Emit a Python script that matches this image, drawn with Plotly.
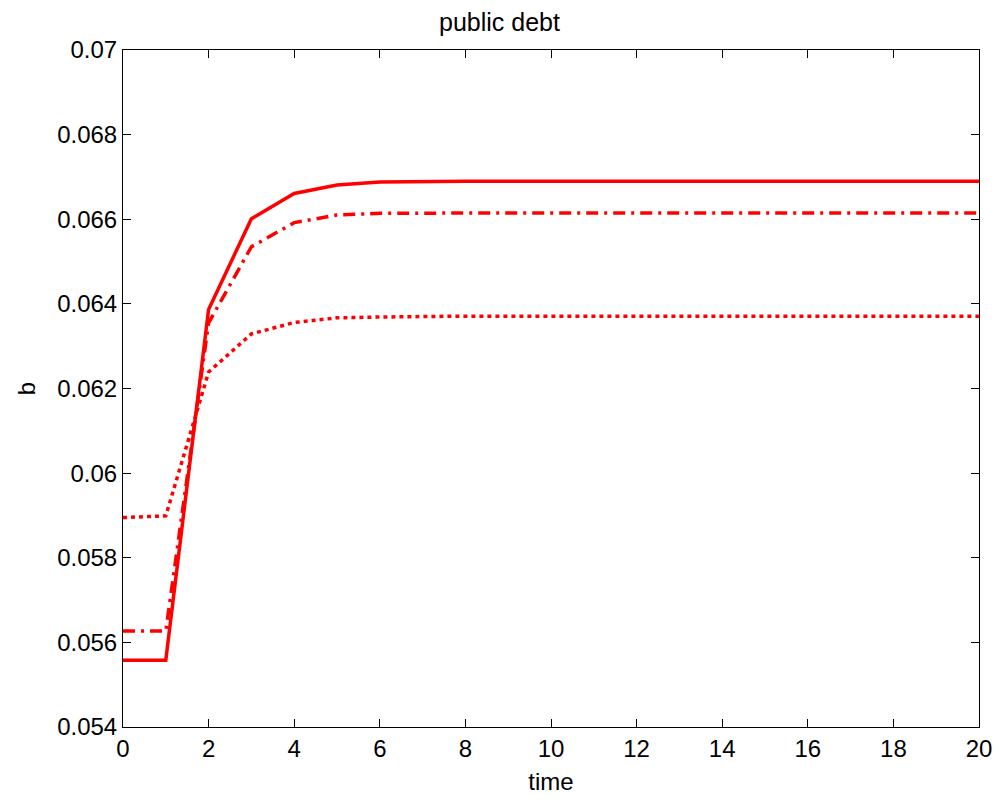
import plotly.graph_objects as go

time = list(range(0, 21))
b_solid = [0.05558, 0.05558, 0.06387, 0.06601, 0.06661, 0.06681, 0.06688] + [0.06690] * 14
b_dashdot = [0.05627, 0.05627, 0.06355, 0.06535, 0.06592, 0.06610, 0.06614] + [0.06615] * 14
b_dotted = [0.05895, 0.05899, 0.06239, 0.06329, 0.06356, 0.06367, 0.06369] + [0.06371] * 14

x_ticks = list(range(0, 21, 2))
y_ticks = [0.054, 0.056, 0.058, 0.06, 0.062, 0.064, 0.066, 0.068, 0.07]
y_labels = ["0.054", "0.056", "0.058", "0.06", "0.062", "0.064", "0.066", "0.068", "0.07"]

fig = go.Figure()
fig.add_trace(go.Scatter(x=time, y=b_solid, mode="lines",
                         line=dict(color="#ff0000", width=3.5)))
fig.add_trace(go.Scatter(x=time, y=b_dashdot, mode="lines",
                         line=dict(color="#ff0000", width=3.5, dash="12px,6px,3px,6px")))
fig.add_trace(go.Scatter(x=time, y=b_dotted, mode="lines",
                         line=dict(color="#ff0000", width=3.5, dash="4px,4px")))

font_family = "Liberation Sans, Arial, sans-serif"
fig.update_layout(
    width=999, height=802,
    margin=dict(l=123, r=20, t=50, b=75),
    paper_bgcolor="white", plot_bgcolor="white",
    showlegend=False,
    font=dict(family=font_family, color="black", size=24),
    title=dict(text="public debt", x=0.5, xanchor="center", y=1 - 22 / 802, yanchor="middle",
               font=dict(size=25, family=font_family, color="black")),
)
fig.update_xaxes(range=[0, 20], tickvals=x_ticks, ticks="inside", ticklen=8, tickcolor="black",
                 showline=True, linecolor="black", linewidth=1, mirror="ticks",
                 showgrid=False, zeroline=False, automargin=False,
                 tickfont=dict(size=24),
                 title=dict(text="time", font=dict(size=24), standoff=12))
fig.update_yaxes(range=[0.054, 0.07], tickvals=y_ticks, ticktext=y_labels,
                 ticks="inside", ticklen=8, tickcolor="black",
                 showline=True, linecolor="black", linewidth=1, mirror="ticks",
                 showgrid=False, zeroline=False, automargin=False,
                 tickfont=dict(size=24),
                 title=dict(text="b", font=dict(size=24), standoff=14))

fig.write_html("out.html")
